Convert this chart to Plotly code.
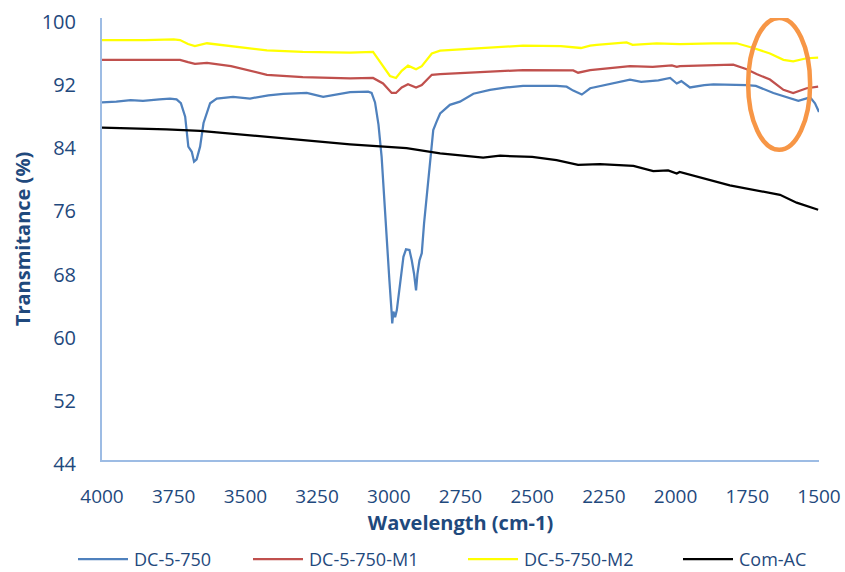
import plotly.graph_objects as go

# FTIR spectra: wavenumber (cm-1) and transmittance (%)
dc_wn = [4000, 3950, 3900, 3857, 3800, 3763, 3740, 3725, 3710, 3699, 3687, 3679, 3670,
         3658, 3646, 3623, 3600, 3543, 3484, 3420, 3368, 3286, 3229, 3170, 3135, 3072,
         3060, 3048, 3036, 3025, 3017, 3007, 2998, 2990, 2988, 2984, 2978, 2972, 2961,
         2949, 2940, 2928, 2920, 2912, 2905, 2900, 2893, 2885, 2877, 2868, 2856, 2845,
         2833, 2821, 2787, 2752, 2705, 2647, 2589, 2532, 2415, 2380, 2357, 2327, 2298,
         2217, 2159, 2120, 2060, 2019, 1996, 1980, 1960, 1950, 1900, 1868, 1752, 1720,
         1659, 1613, 1572, 1531, 1514, 1500]
dc_t = [89.3, 89.4, 89.6, 89.5, 89.7, 89.8, 89.7, 89.2, 87.5, 83.7, 83.05, 81.8, 82.1,
        83.7, 86.7, 89.2, 89.8, 90.0, 89.8, 90.2, 90.4, 90.5, 90.0, 90.4, 90.6, 90.66,
        90.5, 89.3, 86.5, 82.4, 77.35, 71.9, 66.8, 62.6, 61.3, 62.8, 62.1, 63.0, 66.4,
        69.75, 70.7, 70.6, 69.3, 67.6, 65.5, 67.6, 69.3, 70.2, 74.0, 77.35, 82.4, 85.8,
        86.9, 87.9, 89.0, 89.4, 90.4, 90.9, 91.2, 91.4, 91.4, 91.3, 90.8, 90.3, 91.1,
        91.7, 92.2, 91.9, 92.1, 92.4, 91.7, 92.0, 91.4, 91.2, 91.5, 91.6, 91.5, 91.4,
        90.5, 90.0, 89.5, 89.95, 89.2, 88.1]

m1_wn = [4000, 3900, 3800, 3728, 3700, 3676, 3634, 3550, 3425, 3300, 3135, 3055, 3020,
         2990, 2975, 2955, 2933, 2905, 2885, 2850, 2821, 2647, 2532, 2357, 2340, 2298,
         2159, 2080, 2013, 1996, 1985, 1799, 1752, 1718, 1671, 1624, 1590, 1543, 1503]
m1_t = [94.7, 94.7, 94.75, 94.7, 94.4, 94.2, 94.3, 93.9, 92.8, 92.5, 92.35, 92.4, 91.7,
        90.5, 90.5, 91.2, 91.6, 91.2, 91.5, 92.8, 92.9, 93.2, 93.4, 93.35, 93.07, 93.4,
        93.9, 93.8, 94.0, 93.8, 93.9, 94.1, 93.5, 92.9, 92.2, 90.9, 90.5, 91.1, 91.3]

m2_wn = [4000, 3850, 3750, 3728, 3700, 3676, 3634, 3550, 3425, 3300, 3135, 3055, 3020,
         2996, 2975, 2955, 2933, 2905, 2885, 2850, 2821, 2647, 2532, 2400, 2357, 2330,
         2298, 2275, 2171, 2150, 2066, 1985, 1869, 1787, 1729, 1671, 1624, 1590, 1543, 1503]
m2_t = [97.2, 97.2, 97.3, 97.2, 96.7, 96.45, 96.8, 96.4, 95.9, 95.7, 95.6, 95.7, 93.8,
        92.65, 92.4, 93.3, 93.96, 93.5, 93.9, 95.5, 95.86, 96.3, 96.5, 96.45, 96.3, 96.2,
        96.5, 96.6, 96.9, 96.6, 96.8, 96.7, 96.8, 96.8, 96.2, 95.5, 94.7, 94.5, 94.9, 94.97]

ac_wn = [4000, 3775, 3658, 3426, 3135, 2938, 2821, 2671, 2612, 2500, 2415, 2340, 2264,
         2147, 2078, 2026, 1996, 1986, 1927, 1811, 1636, 1578, 1503]
ac_t = [86.1, 85.9, 85.7, 84.96, 84.0, 83.5, 82.85, 82.3, 82.55, 82.4, 82.0, 81.4, 81.5,
        81.25, 80.6, 80.7, 80.3, 80.5, 79.9, 78.8, 77.6, 76.6, 75.7]

series_names = ["DC-5-750", "DC-5-750-M1", "DC-5-750-M2", "Com-AC"]
series_colors = ["#4F81BD", "#C0504D", "#FFFF00", "#000000"]
series_x = [dc_wn, m1_wn, m2_wn, ac_wn]
series_y = [dc_t, m1_t, m2_t, ac_t]

x_ticks = [4000, 3750, 3500, 3250, 3000, 2750, 2500, 2250, 2000, 1750, 1500]
y_ticks = [44, 52, 60, 68, 76, 84, 92, 100]

TEXT = "#1F497D"
AXIS = "#9DBCE4"
FONT = "Open Sans"

fig = go.Figure()
for name, color, xs, ys in zip(series_names, series_colors, series_x, series_y):
    fig.add_trace(go.Scatter(x=xs, y=ys, mode="lines", name=name,
                             line=dict(color=color, width=2.25),
                             showlegend=False))

# highlighted region near 1650 cm-1
fig.add_shape(type="circle", xref="x", yref="y",
              x0=1747, x1=1531, y0=83.3, y1=100.0,
              line=dict(color="#F79646", width=4.5))

# legend row drawn beneath the axis title
legend_x = [78, 253, 468, 683]
legend_y = -(559 - 460) / 442
for name, color, lx in zip(series_names, series_colors, legend_x):
    fig.add_shape(type="line", xref="paper", yref="paper",
                  x0=(lx - 102) / 717, x1=(lx + 50 - 102) / 717,
                  y0=legend_y, y1=legend_y,
                  line=dict(color=color, width=2.25))
    fig.add_annotation(xref="paper", yref="paper",
                       x=(lx + 54 - 102) / 717, y=legend_y,
                       text=name, showarrow=False, xanchor="left", yanchor="middle",
                       font=dict(family=FONT, size=18, color=TEXT))

fig.update_layout(
    width=845, height=572,
    margin=dict(l=102, r=26, t=18, b=112),
    paper_bgcolor="white", plot_bgcolor="white",
    font=dict(family=FONT, color=TEXT),
)
fig.update_xaxes(
    range=[4000, 1500], tickvals=x_ticks, ticktext=[str(v) for v in x_ticks],
    automargin=False,
    showgrid=False, zeroline=False, showline=True, linecolor=AXIS, linewidth=2,
    ticks="", ticklabelstandoff=18, tickfont=dict(family=FONT, size=19, color=TEXT),
    title=dict(text="<b>Wavelength (cm-1)</b>", standoff=8,
               font=dict(family=FONT, size=20, color=TEXT)),
)
fig.update_yaxes(
    range=[44, 100], tickvals=y_ticks, ticktext=[str(v) for v in y_ticks],
    automargin=False,
    showgrid=False, zeroline=False, showline=True, linecolor=AXIS, linewidth=2,
    ticks="", ticklabelstandoff=20, ticklabelshift=4,
    tickfont=dict(family=FONT, size=20, color=TEXT),
    title=dict(text="<b>Transmitance (%)</b>", standoff=6,
               font=dict(family=FONT, size=20, color=TEXT)),
)

fig.write_html("out.html")
